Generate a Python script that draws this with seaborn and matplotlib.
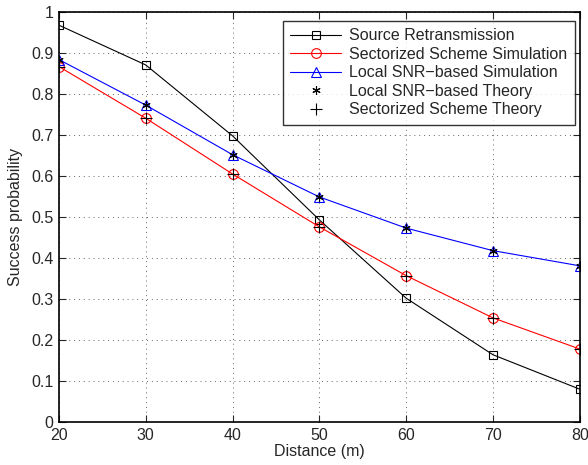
import matplotlib
matplotlib.use("Agg")
import matplotlib.pyplot as plt
import seaborn as sns
import pandas as pd

distance = [20, 30, 40, 50, 60, 70, 80]
source_retx = [0.968, 0.871, 0.698, 0.493, 0.302, 0.164, 0.080]
sector_sim = [0.867, 0.741, 0.605, 0.476, 0.357, 0.254, 0.178]
local_sim = [0.884, 0.773, 0.652, 0.549, 0.473, 0.418, 0.381]
local_theory = [0.884, 0.773, 0.652, 0.549, 0.473, 0.418, 0.381]
sector_theory = [0.867, 0.741, 0.605, 0.476, 0.357, 0.254, 0.178]
x_ticks = [20, 30, 40, 50, 60, 70, 80]
y_ticks = [0, 0.1, 0.2, 0.3, 0.4, 0.5, 0.6, 0.7, 0.8, 0.9, 1]

sns.set_style("ticks")
plt.rcParams['font.family'] = ['Liberation Sans', 'DejaVu Sans']

fig = plt.figure(figsize=(5.88, 4.65), dpi=100)
ax = fig.add_axes([0.1003, 0.0925, 0.8857, 0.8815])

df = pd.DataFrame({"d": distance, "src": source_retx, "sec": sector_sim,
                   "loc": local_sim, "loct": local_theory, "sect": sector_theory})

sns.lineplot(data=df, x="d", y="src", ax=ax, color="black", lw=0.8, marker="s",
             markersize=6, markerfacecolor="none", markeredgecolor="black",
             markeredgewidth=0.8, label="Source Retransmission")
sns.lineplot(data=df, x="d", y="sec", ax=ax, color="red", lw=0.8, marker="o",
             markersize=7, markerfacecolor="none", markeredgecolor="red",
             markeredgewidth=0.8, label="Sectorized Scheme Simulation")
sns.lineplot(data=df, x="d", y="loc", ax=ax, color="blue", lw=0.8, marker="^",
             markersize=7, markerfacecolor="none", markeredgecolor="blue",
             markeredgewidth=0.8, label="Local SNR\u2212based Simulation")
sns.lineplot(data=df, x="d", y="loct", ax=ax, color="black", lw=0, marker=(6, 2, 0),
             markersize=6, markeredgecolor="black", markeredgewidth=0.8,
             label="Local SNR\u2212based Theory")
sns.lineplot(data=df, x="d", y="sect", ax=ax, color="black", lw=0, marker="+",
             markersize=8, markeredgecolor="black", markeredgewidth=0.8,
             label="Sectorized Scheme Theory")

ax.set_xlim(20, 80)
ax.set_ylim(0, 1)
ax.set_xticks(x_ticks)
ax.set_yticks(y_ticks)
ax.set_xticklabels([str(v) for v in x_ticks])
ax.set_yticklabels(["0"] + [f"{v:g}" for v in y_ticks[1:-1]] + ["1"])
ax.tick_params(direction="in", top=True, right=True, length=5, width=0.8,
               labelsize=11.5, pad=4)
ax.grid(True, linestyle=(0, (1, 4)), color="black", lw=0.7, alpha=0.6)
for s in ax.spines.values():
    s.set_linewidth(1.2)
    s.set_color("black")
ax.set_xlabel("Distance (m)", fontsize=11.5, labelpad=1)
ax.set_ylabel("Success probability", fontsize=11.5, labelpad=6)

leg = ax.legend(loc="upper right", bbox_to_anchor=(0.99, 0.978), numpoints=1,
                handlelength=3.2, fontsize=11.5, frameon=True, fancybox=False,
                edgecolor="black", borderpad=0.45, labelspacing=0.22,
                handletextpad=0.5, borderaxespad=0)
leg.get_frame().set_linewidth(1.0)

fig.savefig("out.png", dpi=100)
